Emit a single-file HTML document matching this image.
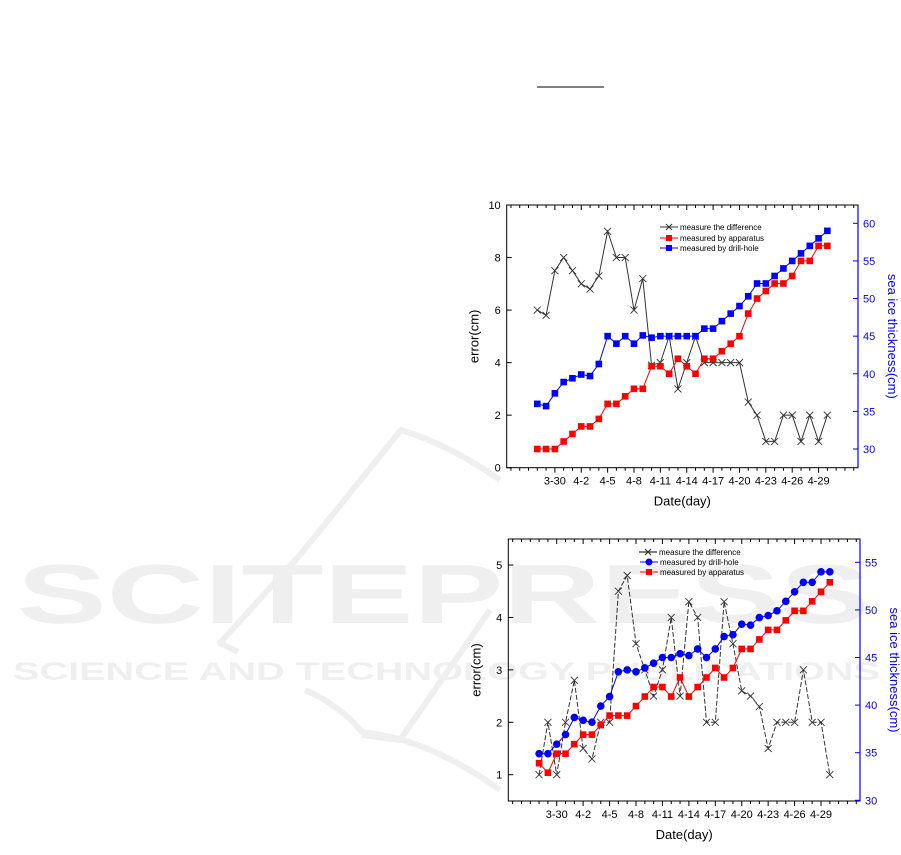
<!DOCTYPE html>
<html><head><meta charset="utf-8"><style>
html,body{margin:0;padding:0;background:#fff;}
svg{display:block;font-family:"Liberation Sans",sans-serif;}
</style></head><body>
<svg id="s" width="901" height="855" viewBox="0 0 901 855" xmlns="http://www.w3.org/2000/svg">
<line x1="537" y1="87" x2="604" y2="87" stroke="#000" stroke-width="1"/>
<g fill="#efefef" font-weight="bold">
<text x="17" y="623" font-size="84" textLength="853" lengthAdjust="spacingAndGlyphs">SCITEPRESS</text>
<text x="13" y="680" font-size="25" textLength="867" lengthAdjust="spacingAndGlyphs">SCIENCE AND TECHNOLOGY PUBLICATIONS</text>
</g>
<g stroke="#efefef" stroke-width="6" fill="none" stroke-linejoin="round">
<path d="M500,480 Q450,445 401,430 L300,555 L220,643 L238,652"/>
<path d="M305,690 Q340,705 362,732 L368,733 Q430,740 500,790"/>
<path d="M490,610 L400,740 L362,735"/>
</g>
<g id="c"></g>
</svg>
<script>
const g=document.getElementById('c');let h='';
function chart(o){
 const {L,R,T,B,x0,dx,ly,ry,lt,rt,diff,blue,red,dash,legend}=o;
 h+=`<rect x="${L}" y="${T}" width="${R-L}" height="${B-T}" fill="none" stroke="#000" stroke-width="1"/>`;
 h+=`<line x1="${R}" y1="${T}" x2="${R}" y2="${B}" stroke="#00f" stroke-width="1.2"/>`;
 for(let d=-3;d<=36;d++){const x=x0+d*dx;if(x<L||x>R)continue;const maj=(d-2)%3==0&&d>=2&&d<=32;const len=maj?5:3;
  h+=`<line x1="${x}" y1="${B}" x2="${x}" y2="${B+len}" stroke="#000"/><line x1="${x}" y1="${T}" x2="${x}" y2="${T+len}" stroke="#000"/>`;}
 const labs=['3-30','4-2','4-5','4-8','4-11','4-14','4-17','4-20','4-23','4-26','4-29'];
 labs.forEach((t,i)=>{h+=`<text x="${x0+(2+3*i)*dx}" y="${B+17}" font-size="11" text-anchor="middle">${t}</text>`;});
 h+=`<text x="${(L+R)/2}" y="${B+38}" font-size="13" text-anchor="middle">Date(day)</text>`;
 lt.forEach(v=>{const y=ly(v);h+=`<line x1="${L}" y1="${y}" x2="${L+5}" y2="${y}" stroke="#000"/><text x="${L-6}" y="${y+4}" font-size="11" text-anchor="end">${v}</text>`;});
 rt.forEach(v=>{const y=ry(v);h+=`<line x1="${R}" y1="${y}" x2="${R-5}" y2="${y}" stroke="#00f"/><text x="${R+5}" y="${y+4}" font-size="11" fill="#00f">${v}</text>`;});
 h+=`<text transform="translate(${L-28},${(T+B)/2}) rotate(-90)" font-size="13" text-anchor="middle">error(cm)</text>`;
 h+=`<text transform="translate(${R+30},${(T+B)/2}) rotate(90)" font-size="13" text-anchor="middle" fill="#00f">sea ice thickness(cm)</text>`;
 const pts=(arr,f)=>arr.map((v,i)=>[x0+i*dx,f(v)]);
 const pl=(p,c,ds)=>`<polyline points="${p.map(q=>q.join(',')).join(' ')}" fill="none" stroke="${c}" stroke-width="1" ${ds?'stroke-dasharray="5,2"':''}/>`;
 const d=pts(diff,ly);h+=pl(d,'#333',dash);
 d.forEach(([x,y])=>{h+=`<path d="M${x-3.5},${y-3.5}L${x+3.5},${y+3.5}M${x-3.5},${y+3.5}L${x+3.5},${y-3.5}" stroke="#333" stroke-width="0.9"/>`;});
 const bp=pts(blue,ry),rp=pts(red,ry);
 h+=pl(rp,'#f00');rp.forEach(([x,y])=>{h+=`<rect x="${x-3.3}" y="${y-3.3}" width="6.6" height="6.6" fill="#f00"/>`;});
 h+=pl(bp,'#00f');bp.forEach(([x,y])=>{h+=o.circ?`<circle cx="${x}" cy="${y}" r="3.8" fill="#00f"/>`:`<rect x="${x-3.3}" y="${y-3.3}" width="6.6" height="6.6" fill="#00f"/>`;});
 legend.forEach(([lx,ly2,c,m,t])=>{h+=`<line x1="${lx}" y1="${ly2}" x2="${lx+18}" y2="${ly2}" stroke="${c}"/>`;
  if(m=='x')h+=`<path d="M${lx+6},${ly2-3}L${lx+12},${ly2+3}M${lx+6},${ly2+3}L${lx+12},${ly2-3}" stroke="#333"/>`;
  else if(m=='c')h+=`<circle cx="${lx+9}" cy="${ly2}" r="3.5" fill="${c}"/>`;
  else h+=`<rect x="${lx+6}" y="${ly2-3}" width="6" height="6" fill="${c}"/>`;
  h+=`<text x="${lx+20}" y="${ly2+3}" font-size="8">${t}</text>`;});
}
chart({L:506.7,R:858,T:205,B:467.7,x0:537.3,dx:8.79,
 ly:v=>467.7-v*26.27,ry:v=>449-(v-30)*7.523,lt:[0,2,4,6,8,10],rt:[30,35,40,45,50,55,60],
 diff:[6,5.8,7.5,8,7.5,7,6.8,7.3,9,8,8,6,7.2,3.9,4,5,3,4,5,4,4,4,4,4,2.5,2,1,1,2,2,1,2,1,2],
 red:[30,30,30,31,32,33,33,34,36,36,37,38,38,41,41,40,42,41,40,42,42,43,44,45,48,50,51,52,52,53,55,55,57,57],
 blue:[36,35.7,37.4,38.9,39.4,39.9,39.7,41.3,45,44,45,44,45.1,44.8,45,45,45,45,45,46,46,47,48,49,50.3,52,52,53,54,55,56,57,58,59],
 legend:[[660,227,'#333','x','measure the difference'],[660,238,'#f00','s','measured by apparatus'],[660,248,'#00f','s','measured by drill-hole']]});
chart({L:508.3,R:860,T:539,B:801,x0:539.1,dx:8.81,circ:true,dash:true,
 ly:v=>774.7-(v-1)*52.42,ry:v=>800.3-(v-30)*9.52,lt:[1,2,3,4,5],rt:[30,35,40,45,50,55],
 diff:[1,2,1,2,2.8,1.5,1.3,2,2,4.5,4.8,3.5,3,2.5,3,4,2.5,4.3,4,2,2,4.3,3.5,2.6,2.5,2.3,1.5,2,2,2,3,2,2,1],
 blue:[34.9,34.9,35.9,36.9,38.7,38.4,38.2,39.9,40.9,43.5,43.7,43.5,43.9,44.4,45,45,45.4,45.2,45.9,45,45.9,47.2,47.4,48.5,48.4,49.2,49.4,49.9,50.9,51.9,52.9,52.9,54,54],
 red:[33.9,32.9,34.9,34.9,35.9,36.9,36.9,37.9,38.9,38.9,38.9,39.9,40.9,41.9,41.9,40.9,42.9,40.9,41.9,42.9,43.9,42.9,43.9,45.9,45.9,46.9,47.9,47.9,48.9,49.9,49.9,50.9,51.9,52.9],
 legend:[[639,552,'#000','x','measure the difference'],[640,562,'#00f','c','measured by drill-hole'],[640,572,'#f00','s','measured by apparatus']]});
g.innerHTML=h;
</script>
</body></html>
